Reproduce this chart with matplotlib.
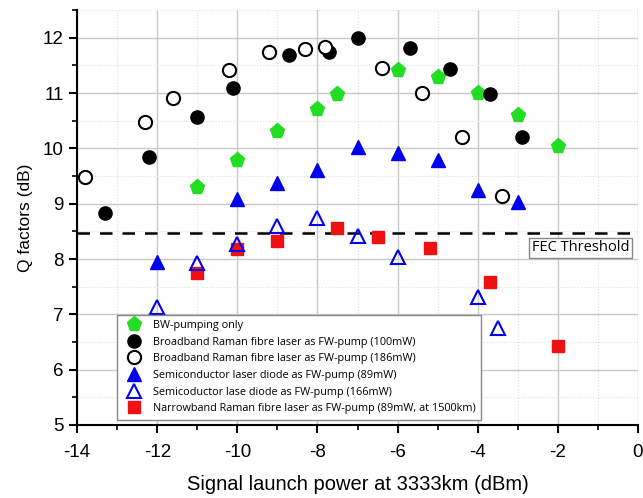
import numpy as np
import matplotlib
matplotlib.use('Agg')
import matplotlib.pyplot as plt
from matplotlib.ticker import MultipleLocator

# Q factor vs signal launch power
bw_x = [-11, -10, -9, -8, -7.5, -6, -5, -4, -3, -2]
bw_q = [9.31, 9.79, 10.31, 10.71, 10.99, 11.41, 11.29, 11.0, 10.61, 10.05]

bb100_x = [-13.3, -12.2, -11.0, -10.1, -8.7, -7.7, -7.0, -5.7, -4.7, -3.7, -2.9]
bb100_q = [8.84, 9.84, 10.56, 11.1, 11.69, 11.75, 12.0, 11.81, 11.43, 10.99, 10.21]

bb186_x = [-13.8, -12.3, -11.6, -10.2, -9.2, -8.3, -7.8, -6.4, -5.4, -4.4, -3.4]
bb186_q = [9.49, 10.48, 10.91, 11.42, 11.75, 11.79, 11.83, 11.45, 11.0, 10.21, 9.14]

sd89_x = [-12, -10, -9, -8, -7, -6, -5, -4, -3]
sd89_q = [7.94, 9.08, 9.38, 9.61, 10.03, 9.91, 9.79, 9.24, 9.04]

sd166_x = [-12, -11, -10, -9, -8, -7, -6, -4, -3.5]
sd166_q = [7.14, 7.92, 8.27, 8.6, 8.74, 8.42, 8.03, 7.32, 6.75]

nb_x = [-11, -10, -9, -7.5, -6.5, -5.2, -3.7, -2]
nb_q = [7.74, 8.18, 8.33, 8.56, 8.39, 8.2, 7.59, 6.42]

fec_threshold = 8.48

labels = [
    'BW-pumping only',
    'Broadband Raman fibre laser as FW-pump (100mW)',
    'Broadband Raman fibre laser as FW-pump (186mW)',
    'Semiconductor laser diode as FW-pump (89mW)',
    'Semicoductor lase diode as FW-pump (166mW)',
    'Narrowband Raman fibre laser as FW-pump (89mW, at 1500km)',
]

plt.rcParams['font.family'] = ['Liberation Sans', 'DejaVu Sans']
plt.rcParams['axes.unicode_minus'] = False

fig = plt.figure(figsize=(6.43, 4.98), dpi=100)
ax = fig.add_axes([0.12, 0.1466, 0.872, 0.833])

green = '#22dd22'
blue = '#0000ee'
red = '#ee1111'

h1, = ax.plot(bw_x, bw_q, linestyle='none', marker='p', ms=11, color=green, mec=green, zorder=3)
h2, = ax.plot(bb100_x, bb100_q, linestyle='none', marker='o', ms=9.5, color='black', zorder=3)
h3, = ax.plot(bb186_x, bb186_q, linestyle='none', marker='o', ms=9.5, mfc='white', mec='black', mew=1.5, zorder=3)
h4, = ax.plot(sd89_x, sd89_q, linestyle='none', marker='^', ms=10, color=blue, zorder=3)
h6, = ax.plot(nb_x, nb_q, linestyle='none', marker='s', ms=8, color=red, zorder=3)
h5, = ax.plot(sd166_x, sd166_q, linestyle='none', marker='^', ms=10, mfc='none', mec=blue, mew=1.5, zorder=3)

ax.axhline(fec_threshold, color='black', linestyle=(0, (5, 4)), linewidth=1.8, zorder=2)
ax.text(-0.22, 8.2, 'FEC Threshold', ha='right', va='center', fontsize=10.5,
        family=['Open Sans', 'DejaVu Sans'],
        bbox=dict(boxstyle='square,pad=0.2', fc='white', ec='#888888', lw=1))

ax.set_xlim(-14, 0)
ax.set_ylim(5, 12.5)
ax.xaxis.set_major_locator(MultipleLocator(2))
ax.xaxis.set_minor_locator(MultipleLocator(1))
ax.yaxis.set_major_locator(MultipleLocator(1))
ax.yaxis.set_minor_locator(MultipleLocator(0.5))

ax.grid(which='major', color='#c8c8c8', linewidth=1.0, zorder=0)
ax.grid(which='minor', color='#e0e0e0', linewidth=0.8, linestyle=':', zorder=0)
ax.set_axisbelow(True)

ax.spines['top'].set_visible(False)
ax.spines['right'].set_visible(False)
ax.spines['left'].set_linewidth(1.5)
ax.spines['bottom'].set_linewidth(1.5)
ax.tick_params(which='major', direction='out', length=6, width=1.5, labelsize=13.5)
ax.tick_params(which='minor', direction='out', length=3.5, width=1.2)
ax.tick_params(axis='x', which='major', pad=8)

ax.set_xlabel('Signal launch power at 3333km (dBm)', fontsize=14.5, labelpad=10)
ax.set_ylabel('Q factors (dB)', fontsize=12.5, labelpad=7)

leg = ax.legend([h1, h2, h3, h4, h5, h6], labels, loc='lower left',
                bbox_to_anchor=(0.062, 0.0), frameon=True,
                fancybox=False, edgecolor='#888888', framealpha=1,
                labelspacing=0.52, handletextpad=0.8, borderpad=0.5,
                prop={'family': ['Open Sans', 'DejaVu Sans'], 'size': 7.8})
leg.get_frame().set_linewidth(1.0)

fig.savefig('out.png', dpi=100)
